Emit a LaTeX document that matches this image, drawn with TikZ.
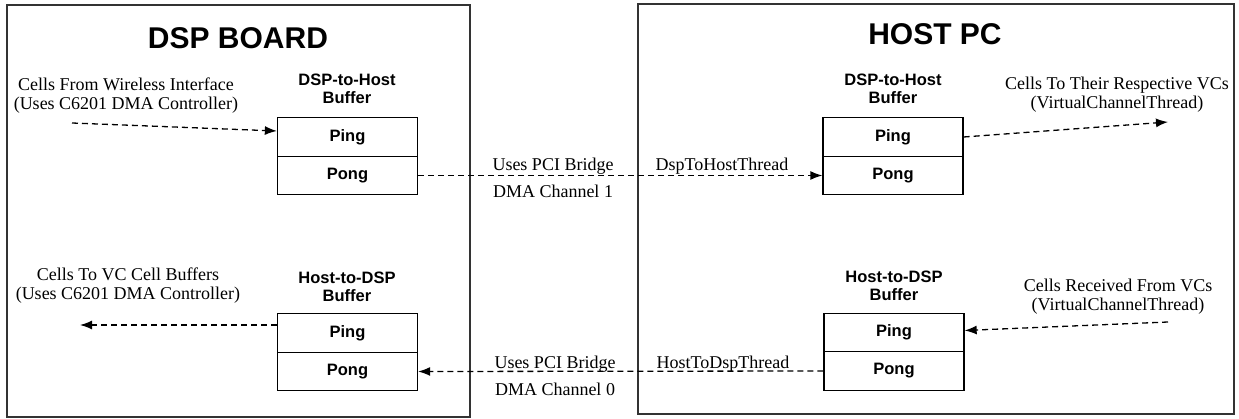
\documentclass[tikz,border=0pt]{standalone}
\usepackage{fontspec}
\setmainfont{Liberation Serif}
\newfontfamily\arialf{Liberation Sans}
\usetikzlibrary{arrows.meta}
\begin{document}
\begin{tikzpicture}[x=1pt,y=-1pt,
  panel/.style={draw=black!80,line width=1.3pt},
  titletext/.style={font=\arialf\bfseries\fontsize{30}{32}\selectfont,inner sep=0pt},
  buf/.style={draw=black,line width=1.3pt,minimum width=140pt,minimum height=38.5pt,inner sep=0pt,font=\arialf\bfseries\fontsize{16.5}{18}\selectfont},
  buflabel/.style={align=center,inner sep=0pt,font=\arialf\bfseries\fontsize{16.5}{17.5}\selectfont},
  note/.style={align=center,inner sep=0pt,font=\fontsize{18}{19}\selectfont},
  flow/.style={dashed,dash pattern=on 6pt off 4pt,line width=1.3pt,-{Latex[length=12pt,width=9pt]}}]
\useasboundingbox (0,0) rectangle (1239,419);
% panels
\node[panel,minimum width=463pt,minimum height=412pt,inner sep=0pt] (board) at (238.5,211) {};
\node[panel,minimum width=596pt,minimum height=410pt,inner sep=0pt] (host) at (936,209) {};
\node[titletext] (t1) at (238,38) {DSP BOARD};
\node[titletext] (t2) at (935,34) {HOST PC};
% left buffers
\node[buflabel] (lbl1) at (347,89) {DSP-to-Host\\Buffer};
\node[buf] (lPing) at (347.5,137) {Ping};
\node[buf] (lPong) at (347.5,175.5) {Pong};
\node[buflabel] (lbl2) at (347,287) {Host-to-DSP\\Buffer};
\node[buf] (lhPing) at (347.5,333) {Ping};
\node[buf] (lhPong) at (347.5,371.5) {Pong};
% right buffers
\node[buflabel] (lbl3) at (893,89) {DSP-to-Host\\Buffer};
\node[buf] (rPing) at (893,137) {Ping};
\node[buf] (rPong) at (893,175.5) {Pong};
\node[buflabel] (lbl4) at (894,286) {Host-to-DSP\\Buffer};
\node[buf] (rhPing) at (894,332.5) {Ping};
\node[buf] (rhPong) at (894,371) {Pong};
% notes
\node[note] (n1) at (126,96) {Cells From Wireless Interface\\(Uses C6201 DMA Controller)};
\node[note] (n2) at (128,286) {Cells To VC Cell Buffers\\(Uses C6201 DMA Controller)};
\node[note] (n3) at (1117,95) {Cells To Their Respective VCs\\(VirtualChannelThread)};
\node[note] (n4) at (1118,297) {Cells Received From VCs\\(VirtualChannelThread)};
\node[note,anchor=base] (m1) at (553,171) {Uses PCI Bridge};
\node[note,anchor=base] (m2) at (553,198) {DMA Channel 1};
\node[note,anchor=base] (m3) at (722,171) {DspToHostThread};
\node[note,anchor=base] (m4) at (555,368) {Uses PCI Bridge};
\node[note,anchor=base] (m5) at (555,395) {DMA Channel 0};
\node[note,anchor=base] (m6) at (723,368) {HostToDspThread};
% free ends
\coordinate (c1) at (72,123);
\coordinate (c2) at (80,325);
\coordinate (c3) at (1168,122);
\coordinate (c4) at (1168,322);
% connectors
\draw[flow] (c1) -- ([yshift=6pt]lPing.west);
\draw[flow] ([yshift=8pt]lhPing.west) -- (c2);
\draw[flow] (rPing.east) -- (c3);
\draw[flow] (c4) -- ([yshift=2pt]rhPing.east);
\draw[flow] (lPong.east) -- (rPong.west);
\draw[flow] (rhPong.west) -- (lhPong.east);
\end{tikzpicture}
\end{document}
